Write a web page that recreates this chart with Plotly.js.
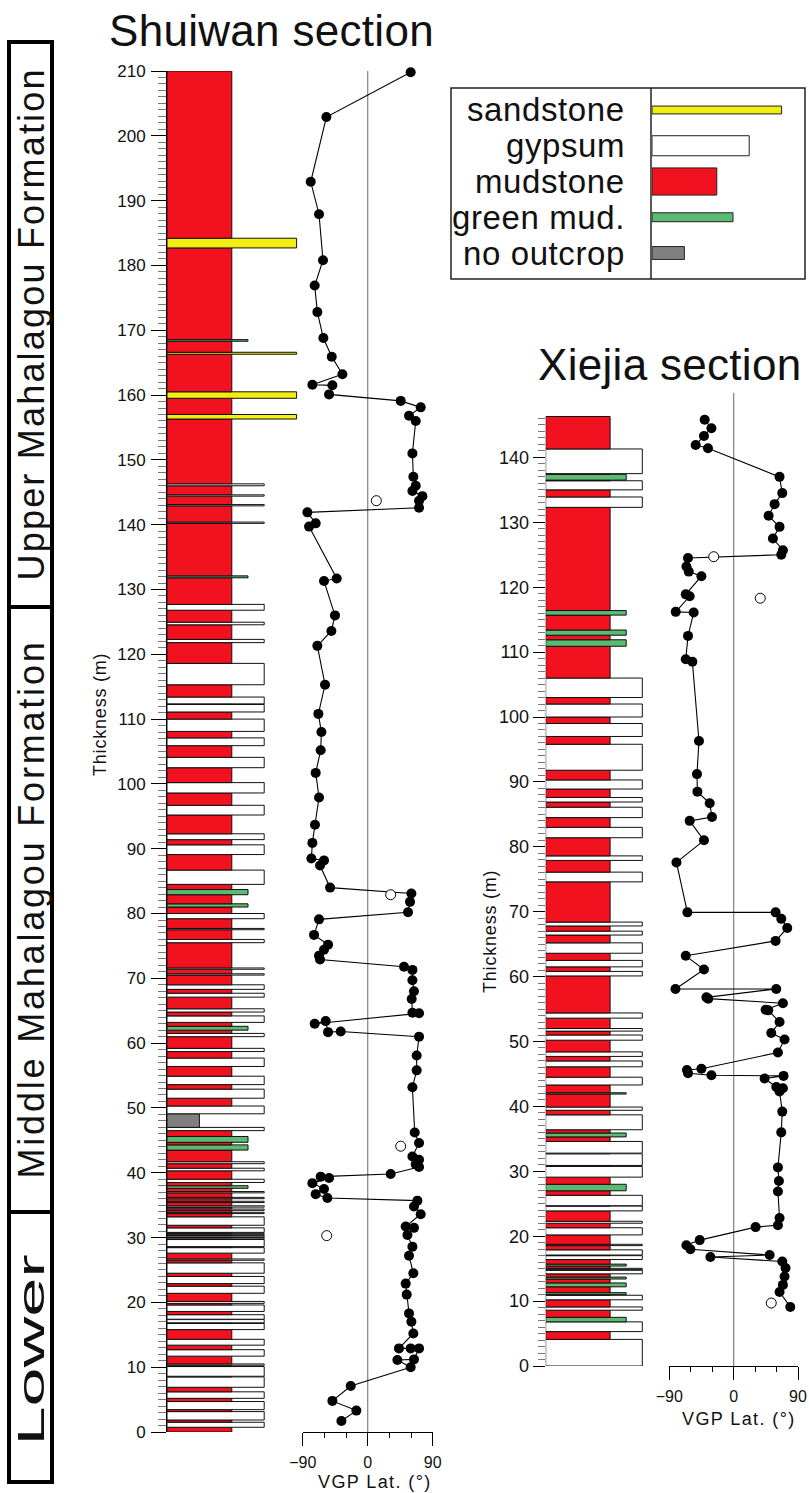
<!DOCTYPE html>
<html><head><meta charset="utf-8">
<script src="https://cdn.plot.ly/plotly-3.0.1.min.js"></script>
<style>html,body{margin:0;padding:0;background:#fff}#chart{width:809px;height:1493px}</style>
</head><body><div id="chart"></div>
<script>
// ---------------- DATA ----------------
// lithology classes (legend order) and their column width (grain-size units)
const lithCodes = ['S', 'Y', 'M', 'G', 'N'];
const lithNames = ['sandstone', 'gypsum', 'mudstone', 'green mud.', 'no outcrop'];
const lithWidth = [4, 3, 2, 2.5, 1];

// Shuiwan section: non-mudstone beds (m); mudstone fills the gaps up to swTop
const swTop = 210;
const swBedBottom = [182.7,168.3,166.3,159.5,156.3,146.0,144.4,142.9,140.2,131.8,126.8,124.55,121.8,115.3,112.35,111.1,108.1,105.9,102.5,98.6,95.2,91.4,89.1,84.5,82.9,81.0,79.2,77.5,75.5,71.4,70.5,68.3,67.1,64.8,63.2,62.0,61.0,58.7,56.4,53.6,51.5,49.1,47.0,46.5,44.7,43.5,41.4,40.3,38.5,37.6,36.9,36.0,35.4,34.7,34.2,33.7,31.9,30.8,30.45,30.1,29.8,28.6,27.6,26.5,24.5,22.9,21.4,19.85,18.6,17.4,16.85,15.8,13.4,11.7,10.3,8.6,6.9,5.2,3.45,1.85,0.73];
const swBedTop    = [184.2,168.55,166.6,160.5,157.0,146.3,144.6,143.1,140.4,132.1,127.7,124.95,122.3,118.6,113.4,112.25,110.0,107.1,104.1,100.2,96.7,92.3,90.6,86.7,83.7,81.5,80.0,77.7,76.0,71.6,70.7,69.0,67.7,65.3,64.2,62.6,61.5,59.2,57.7,54.9,52.9,50.3,49.1,47.0,45.6,44.3,41.7,40.7,39.0,38.0,37.1,36.2,35.6,34.9,34.4,33.9,33.2,31.5,30.65,30.3,30.0,29.7,28.45,26.7,26.1,24.0,22.5,20.15,19.6,18.1,17.35,16.75,14.3,12.7,10.5,10.1,8.5,6.2,4.7,3.15,1.5];
const swBedLith   = ['S','G','S','S','S','Y','Y','Y','Y','G','Y','Y','Y','Y','Y','Y','Y','Y','Y','Y','Y','Y','Y','Y','G','G','Y','Y','Y','Y','Y','Y','Y','Y','Y','G','Y','Y','Y','Y','Y','Y','N','Y','G','G','Y','Y','Y','G','Y','Y','Y','Y','Y','Y','Y','Y','Y','Y','Y','Y','Y','Y','Y','Y','Y','Y','Y','Y','Y','Y','Y','Y','Y','Y','Y','Y','Y','Y','Y'];

// Xiejia section
const xjTop = 146.3;
const xjBedBottom = [137.5,136.5,135.0,132.3,115.7,112.6,110.9,103.0,100.0,97.0,91.8,88.9,86.9,84.5,81.4,77.9,74.6,67.8,66.4,63.6,61.5,60.1,53.6,51.6,50.2,47.7,46.1,43.3,41.9,39.4,36.4,35.3,32.8,30.9,29.1,27.0,24.7,23.9,22.0,20.2,18.55,17.1,16.4,15.4,14.85,14.2,13.4,12.2,11.0,10.2,8.6,6.8,5.3,0.0];
const xjBedTop    = [141.3,137.4,136.4,133.9,116.4,113.4,111.9,106.0,102.0,99.0,95.8,90.3,87.6,86.1,83.0,78.6,76.1,68.4,67.0,65.2,62.5,60.8,54.4,52.0,51.0,48.4,47.0,44.5,42.1,39.9,38.7,35.9,34.6,32.7,30.75,28.0,26.3,24.65,22.3,21.3,18.75,17.9,17.0,15.7,15.05,14.75,13.7,12.8,11.3,10.9,9.1,7.5,6.8,4.1];
const xjBedLith   = ['Y','G','Y','Y','G','G','G','Y','Y','Y','Y','Y','Y','Y','Y','Y','Y','Y','Y','Y','Y','Y','Y','Y','Y','Y','Y','Y','G','Y','Y','G','Y','Y','Y','G','Y','Y','Y','Y','Y','Y','Y','G','Y','Y','G','G','G','Y','Y','G','Y','Y'];

// VGP latitude (deg) vs stratigraphic level (m)
const swVgpDepth = [209.8,202.9,192.9,187.9,180.8,176.9,172.8,168.8,165.9,163.2,161.6,161.5,160.1,159.1,158.1,156.8,156.0,151.0,147.4,146.0,145.2,144.4,143.7,142.6,141.9,140.2,139.7,131.7,131.3,126.0,123.6,121.3,115.3,110.8,108.0,105.2,101.7,97.9,93.7,90.9,88.5,88.2,87.4,84.0,83.1,81.8,80.2,79.1,76.7,75.2,74.4,73.5,72.9,71.8,71.3,69.7,68.0,66.8,64.7,64.6,63.0,63.4,61.7,61.8,61.0,58.1,55.8,53.2,46.2,44.6,42.5,42.0,41.3,40.9,39.8,39.4,39.2,38.4,37.5,36.7,36.1,35.7,34.8,33.6,31.7,31.5,30.4,28.6,27.2,24.5,22.9,21.2,18.3,17.0,15.2,12.9,12.9,12.9,11.2,11.1,10.0,7.1,4.8,3.3,1.7];
const swVgpLat   = [59.5,-57.2,-78.9,-67.4,-61.9,-73.4,-69.7,-61.4,-49.8,-35.0,-76.6,-48.9,-53.5,45.7,73.4,57.2,66.5,61.9,63.2,66.5,61.9,75.7,71.1,71.1,-83.5,-72.0,-81.2,-42.9,-60.5,-45.3,-50.3,-69.7,-59.1,-68.3,-64.1,-65.1,-72.0,-67.4,-73.0,-76.6,-78.0,-60.5,-66.0,-52.1,60.5,58.6,55.8,-67.4,-74.3,-54.9,-60.5,-67.4,-66.0,50.3,61.9,61.9,64.1,60.9,61.9,71.1,-73.4,-58.2,-54.9,-37.4,71.1,67.8,67.8,61.9,65.1,71.1,61.9,71.1,66.5,71.1,31.8,-65.1,-53.5,-76.6,-60.5,-72.0,-55.8,68.8,64.1,73.4,52.6,64.1,55.0,61.9,57.2,63.2,52.6,54.0,57.2,60.5,63.2,43.3,59.5,71.1,64.1,41.1,59.5,-23.5,-48.9,-15.7,-36.4];
const swOpenDepth = [143.7, 82.9, 44.1, 30.3];
const swOpenLat   = [12.0, 31.8, 45.7, -56.8];

const xjVgpDepth = [145.8,144.5,143.3,141.9,141.4,137.0,134.5,132.8,131.0,129.3,127.5,125.7,125.0,124.5,123.2,122.4,121.7,118.9,118.6,116.2,116.1,112.5,108.9,108.5,96.3,91.2,88.5,86.7,84.6,84.0,81.0,77.6,69.9,69.9,68.9,67.5,65.5,63.2,61.1,58.1,58.1,56.8,56.6,55.9,54.9,54.8,53.0,51.3,50.3,48.3,45.8,45.6,45.1,44.8,44.7,44.3,43.0,42.8,42.3,39.2,36.0,30.6,28.5,26.9,22.8,21.7,21.4,19.4,18.6,18.0,17.1,16.8,16.1,15.1,13.8,12.5,11.4,9.1];
const xjVgpLat   = [-40.5,-31.1,-41.5,-53.1,-35.9,64.2,68.0,57.3,48.9,64.2,54.9,68.9,66.6,-63.8,-66.1,-62.8,-45.1,-67.0,-61.5,-81.0,-55.9,-63.8,-67.0,-57.7,-48.5,-51.3,-50.7,-33.5,-30.3,-61.5,-41.5,-80.0,-64.7,58.7,66.6,75.0,58.7,-67.0,-41.5,-81.4,59.6,-38.1,-35.5,68.9,44.7,48.4,64.2,52.6,71.2,61.9,-45.1,-65.3,-63.8,-31.1,69.8,43.3,59.6,68.9,64.2,68.0,66.6,61.9,63.3,61.9,64.2,61.9,30.7,-47.5,-66.1,-60.5,50.3,-32.5,68.0,72.6,71.2,68.9,64.2,79.2];
const xjOpenDepth = [124.7, 118.3, 9.7];
const xjOpenLat   = [-27.9, 37.2, 52.6];

// formation column
const formNames  = ['Upper Mahalagou Formation', 'Middle Mahalagou Formation', 'Lower'];

// ---------------- STYLE / LAYOUT ----------------
const FONT = 'Liberation Sans, Arial, Helvetica, sans-serif';
const lithColor = {S:'#F3EE12', Y:'#FFFFFF', M:'#F2111F', G:'#5CBB72', N:'#808080'};
const W = 809, H = 1493;
const PX = x => x / W, PY = y => 1 - y / H;
const sp = (t, s) => s ? '<span style="letter-spacing:' + s + 'px">' + t + '</span>' : t;
const legendBarThick = [0.22, 0.56, 0.76, 0.25, 0.36];
const formBox = [[42, 607], [607, 1212], [1212, 1482]]; // pixel extents of formation boxes
const formFont = [36, 36, 36], formSpacing = [2.2, 2.8, 0], formStretch = [1, 1, 1.95];
const formCenterShift = [0, 0, 3];

function buildColumn(bot, top, lith, colTop) {
  const idx = bot.map((_, i) => i).sort((a, b) => bot[a] - bot[b]);
  const c = [], t = [], w = [], col = [];
  let cur = 0;
  const push = (b, e, code) => {
    c.push((b + e) / 2); t.push(Math.max(e - b, 0.05));
    w.push(lithWidth[lithCodes.indexOf(code)]); col.push(lithColor[code]);
  };
  idx.forEach(i => {
    if (bot[i] > cur + 1e-6) push(cur, bot[i], 'M');
    push(bot[i], top[i], lith[i]);
    cur = Math.max(cur, top[i]);
  });
  if (colTop > cur + 1e-6) push(cur, colTop, 'M');
  return {c, t, w, col};
}

const sw = buildColumn(swBedBottom, swBedTop, swBedLith, swTop);
const xj = buildColumn(xjBedBottom, xjBedTop, xjBedLith, xjTop);

function colTrace(d, xa, ya) {
  return {type:'bar', orientation:'h', x:d.w, y:d.c, width:d.t, base:0,
    marker:{color:d.col, line:{color:'#111', width:1}}, xaxis:xa, yaxis:ya,
    cliponaxis:false, hoverinfo:'skip', showlegend:false};
}
function vgpTrace(dep, lat, xa, ya) {
  return {type:'scatter', mode:'lines+markers', x:lat, y:dep, xaxis:xa, yaxis:ya,
    line:{color:'#000', width:1.1}, marker:{color:'#000', size:10},
    cliponaxis:false, hoverinfo:'skip', showlegend:false};
}
function openTrace(dep, lat, xa, ya) {
  return {type:'scatter', mode:'markers', x:lat, y:dep, xaxis:xa, yaxis:ya,
    marker:{color:'#fff', size:10, line:{color:'#000', width:1}},
    cliponaxis:false, hoverinfo:'skip', showlegend:false};
}

const traces = [
  colTrace(sw, 'x', 'y'),
  vgpTrace(swVgpDepth, swVgpLat, 'x2', 'y'),
  openTrace(swOpenDepth, swOpenLat, 'x2', 'y'),
  colTrace(xj, 'x3', 'y2'),
  vgpTrace(xjVgpDepth, xjVgpLat, 'x4', 'y2'),
  openTrace(xjOpenDepth, xjOpenLat, 'x4', 'y2'),
  {type:'bar', orientation:'h', x:lithWidth, y:[0,1,2,3,4], width:legendBarThick, base:0,
   marker:{color:lithCodes.map(c => lithColor[c]), line:{color:'#222', width:1}},
   xaxis:'x5', yaxis:'y3', hoverinfo:'skip', showlegend:false}
];

const tickFont = {family:FONT, size:17, color:'#111'};
const vgpAxis = (d0, d1, anchor) => ({
  domain:[PX(d0), PX(d1)], range:[-90, 90], anchor:anchor,
  tickmode:'linear', tick0:-90, dtick:90, ticks:'outside', ticklen:13, tickwidth:1, tickcolor:'#000',
  minor:{dtick:30, ticks:'outside', ticklen:5, tickcolor:'#000', tickwidth:1},
  showline:true, linecolor:'#000', linewidth:1, showgrid:false, zeroline:false,
  tickfont:{family:FONT, size:16, color:'#111'}, ticklabelstandoff:3, automargin:false, fixedrange:true
});

const xjMajor = [], xjMinor = [];
for (let v = 0; v <= 140; v += 10) xjMajor.push(v);
for (let v = 0; v <= 146; v += 1) xjMinor.push(v);

const layout = {
  width:W, height:H, margin:{l:0, r:0, t:0, b:0},
  paper_bgcolor:'#fff', plot_bgcolor:'rgba(0,0,0,0)', showlegend:false,
  barmode:'overlay', font:{family:FONT, color:'#111'},
  xaxis:{domain:[PX(167), PX(167 + 4.2 * 32.4)], range:[0, 4.2], anchor:'y', visible:false, fixedrange:true},
  yaxis:{domain:[PY(1432), PY(71)], range:[0, swTop], anchor:'x',
    tickmode:'linear', tick0:0, dtick:10, ticks:'outside', ticklen:15, tickcolor:'#000', tickwidth:1,
    minor:{dtick:1, ticks:'outside', ticklen:8, tickcolor:'#777', tickwidth:1},
    showline:true, linecolor:'#000', linewidth:1, showgrid:false, zeroline:false,
    tickfont:tickFont, ticklabelstandoff:2, automargin:false, fixedrange:true},
  xaxis2:vgpAxis(302.7, 432.7, 'y'),
  xaxis3:{domain:[PX(545.7), PX(545.7 + 3.5 * 32.2)], range:[0, 3.5], anchor:'y2', visible:false, fixedrange:true},
  yaxis2:{domain:[PY(1366), PY(1366 - 150 * 6.49)], range:[0, 150], anchor:'x3',
    tickmode:'array', tickvals:xjMajor, ticks:'outside', ticklen:12, tickcolor:'#000', tickwidth:1,
    minor:{tickmode:'array', tickvals:xjMinor, ticks:'outside', ticklen:7, tickcolor:'#777', tickwidth:1},
    showline:false, showgrid:false, zeroline:false,
    tickfont:{family:FONT, size:18, color:'#111'}, ticklabelstandoff:0, automargin:false, fixedrange:true},
  xaxis4:vgpAxis(669.3, 798, 'y2'),
  xaxis5:{domain:[PX(652), PX(652 + 4.5 * 32.4)], range:[0, 4.5], anchor:'y3', visible:false, fixedrange:true},
  yaxis3:{domain:[PY(279), PY(88)], range:[4.727, -0.615], anchor:'x5', visible:false, fixedrange:true},
  shapes:[
    {type:'line', xref:'x2', yref:'y', x0:0, x1:0, y0:0, y1:swTop, line:{color:'#8a8a8a', width:1.3}, layer:'below'},
    {type:'line', xref:'x4', yref:'y2', x0:0, x1:0, y0:0, y1:150, line:{color:'#8a8a8a', width:1.3}, layer:'below'},
    {type:'rect', xref:'paper', yref:'paper', x0:PX(451), x1:PX(805), y0:PY(279), y1:PY(88), line:{color:'#222', width:1.5}},
    {type:'line', xref:'paper', yref:'paper', x0:PX(651), x1:PX(651), y0:PY(279), y1:PY(88), line:{color:'#222', width:1.5}}
  ],
  annotations:[
    {text:sp('Shuiwan section', 0.3), x:PX(271), y:PY(30), xref:'paper', yref:'paper', showarrow:false,
     font:{family:FONT, size:44, color:'#111'}, xanchor:'center', yanchor:'middle'},
    {text:sp('Xiejia section', 0.3), x:PX(669), y:PY(364), xref:'paper', yref:'paper', showarrow:false,
     font:{family:FONT, size:44, color:'#111'}, xanchor:'center', yanchor:'middle'},
    {text:sp('Thickness (m)', 0.8), x:PX(100), y:PY(715), xref:'paper', yref:'paper', showarrow:false, textangle:-90,
     font:{family:FONT, size:18, color:'#111'}, xanchor:'center', yanchor:'middle'},
    {text:sp('Thickness (m)', 0.8), x:PX(490), y:PY(932), xref:'paper', yref:'paper', showarrow:false, textangle:-90,
     font:{family:FONT, size:18, color:'#111'}, xanchor:'center', yanchor:'middle'},
    {text:sp('VGP Lat. (°)', 1.4), x:PX(375), y:PY(1482), xref:'paper', yref:'paper', showarrow:false,
     font:{family:FONT, size:18, color:'#111'}, xanchor:'center', yanchor:'middle'},
    {text:sp('VGP Lat. (°)', 1.4), x:PX(739), y:PY(1419), xref:'paper', yref:'paper', showarrow:false,
     font:{family:FONT, size:18, color:'#111'}, xanchor:'center', yanchor:'middle'}
  ]
};

lithNames.forEach((n, i) => {
  layout.annotations.push({text:sp(n, 0.6), x:PX(627), y:i, xref:'paper', yref:'y3', showarrow:false,
    font:{family:FONT, size:33, color:'#111'}, xanchor:'right', yanchor:'middle'});
});

const formAnnStart = layout.annotations.length;
formNames.forEach((n, i) => {
  const [a, b] = formBox[i];
  layout.shapes.push({type:'rect', xref:'paper', yref:'paper', x0:PX(9), x1:PX(52), y0:PY(b), y1:PY(a),
    line:{color:'#000', width:4}});
  layout.annotations.push({text:sp(n, formSpacing[i]), x:PX(31), y:PY((a + b) / 2 + formCenterShift[i]), xref:'paper', yref:'paper',
    showarrow:false, textangle:-90, font:{family:FONT, size:formFont[i], color:'#111'},
    xanchor:'center', yanchor:'middle'});
});

Plotly.newPlot('chart', traces, layout, {staticPlot:true, displayModeBar:false}).then(gd => {
  // stretch formation labels along their reading direction, as in the original figure
  const anns = gd.querySelectorAll('.annotation');
  formNames.forEach((n, i) => {
    const g = anns[formAnnStart + i];
    if (!g || formStretch[i] === 1) return;
    const t = g.querySelector('text.annotation-text');
    if (!t) return;
    t.style.transformBox = 'fill-box';
    t.style.transformOrigin = 'center';
    t.style.transform = 'scaleX(' + formStretch[i] + ')';
  });
});
</script></body></html>
